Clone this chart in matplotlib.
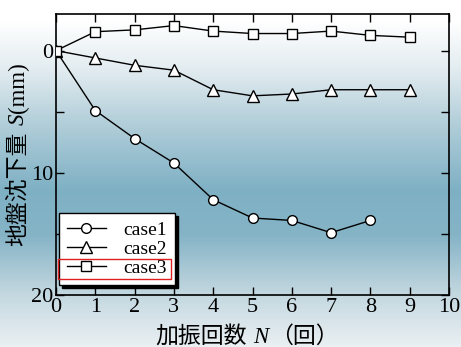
import numpy as np
import matplotlib
matplotlib.use("Agg")
import matplotlib.pyplot as plt
from matplotlib.colors import LinearSegmentedColormap
from matplotlib.patches import Rectangle
from matplotlib.transforms import Bbox, IdentityTransform

FAMILY = ['Liberation Serif', 'Noto Sans CJK JP']
plt.rcParams['font.family'] = FAMILY

# data
n_cycles = [0, 1, 2, 3, 4, 5, 6, 7, 8, 9]
case1 = [0, 4.9, 7.2, 9.2, 12.2, 13.7, 13.9, 14.9, 13.9]
case2 = [0, 0.6, 1.2, 1.6, 3.2, 3.7, 3.55, 3.2, 3.2, 3.2]
case3 = [0, -1.55, -1.7, -2.05, -1.6, -1.4, -1.4, -1.6, -1.25, -1.1]
labels = ['case1', 'case2', 'case3']
x_ticks = list(range(0, 11))
y_major = [0, 10, 20]
y_minor = [5, 15]
xlabel_parts = [('加振回数', 'normal'), ('N', 'italic'), ('（回）', 'normal')]
ylabel_parts = [('地盤沈下量', 'normal'), ('S', 'italic'), ('(mm)', 'normal')]

W, H = 461, 347
fig = plt.figure(figsize=(W / 100, H / 100), dpi=100)

# background gradient over the whole figure (white at top, blue in the middle)
bg = fig.add_axes([0, 0, 1, 1], zorder=-1)
stops = [(0.0, '#ffffff'), (0.06, '#ffffff'), (0.2, '#e2ecf0'), (0.35, '#b3cfda'),
         (0.55, '#7eb0c4'), (0.68, '#86b4c7'), (0.85, '#c4d8e0'), (1.0, '#eaf0f3')]
cmap = LinearSegmentedColormap.from_list('bg', stops)
grad = np.linspace(0, 1, 256).reshape(-1, 1)
bg.imshow(grad, aspect='auto', cmap=cmap, extent=[0, 1, 0, 1], origin='upper')
bg.axis('off')

ax = fig.add_axes([0.1215, 0.1499, 0.8525, 0.8098])
ax.set_facecolor('none')

ax.plot(n_cycles[:len(case1)], case1, '-o', color='black', lw=1, ms=7,
        mfc='white', mec='black', mew=1, label=labels[0], zorder=3)
ax.plot(n_cycles, case2, '-^', color='black', lw=1, ms=8.5,
        mfc='white', mec='black', mew=1, label=labels[1], zorder=3)
ax.plot(n_cycles, case3, '-s', color='black', lw=1, ms=7,
        mfc='white', mec='black', mew=1, label=labels[2], zorder=3)

ax.set_xlim(0, 10)
ax.set_ylim(20, -3)
ax.set_xticks(x_ticks)
ax.set_yticks(y_major)
ax.set_yticks(y_minor, minor=True)
ax.tick_params(which='both', direction='in', top=True, right=True,
               length=6, width=1, labelsize=16, pad=2)
for s in ax.spines.values():
    s.set_linewidth(1.2)

leg = ax.legend(loc='lower left', bbox_to_anchor=(0.008, 0.036), borderaxespad=0,
                fontsize=14, handlelength=2.0, handletextpad=0.9, labelspacing=0.08,
                borderpad=0.4, fancybox=False, framealpha=1, edgecolor='black',
                shadow={'color': 'black', 'alpha': 1})
leg.get_frame().set_linewidth(1)

fig.canvas.draw()
r = fig.canvas.get_renderer()


# axis labels made of pieces so that CJK and italic latin can be mixed
def label_from_parts(parts, center, base, vertical, size=16.5, gap=6):
    texts = []
    for s, style in parts:
        t = fig.text(0, 0, s, transform=IdentityTransform(), fontsize=size,
                     fontstyle=style, family=FAMILY, ha='left', va='baseline',
                     rotation=90 if vertical else 0, rotation_mode='anchor')
        texts.append(t)
    lens = []
    for t in texts:
        e = t.get_window_extent(r)
        lens.append(e.height if vertical else e.width)
    gaps = [gap, 1, 0]
    total = sum(lens) + sum(gaps[:len(texts) - 1])
    pos = center - total / 2
    for t, L, g in zip(texts, lens, gaps):
        t.set_position((base, pos) if vertical else (pos, base))
        pos += L + g


label_from_parts(xlabel_parts, center=247, base=H - 343, vertical=False)
label_from_parts(ylabel_parts, center=H - 154, base=24, vertical=True)

# red box around the case3 entry
h = leg.legend_handles[2].get_window_extent(r)
t = leg.get_texts()[2].get_window_extent(r)
box = Bbox.union([h, t])
inv = fig.transFigure.inverted()
(x0, y0), (x1, y1) = inv.transform([[box.x0 - 4, box.y0 - 2], [box.x1 + 4, box.y1 + 1]])
fig.add_artist(Rectangle((x0, y0), x1 - x0, y1 - y0, transform=fig.transFigure,
                         fill=False, edgecolor='#e02020', lw=1, zorder=10))

fig.savefig('out.png', dpi=100)
